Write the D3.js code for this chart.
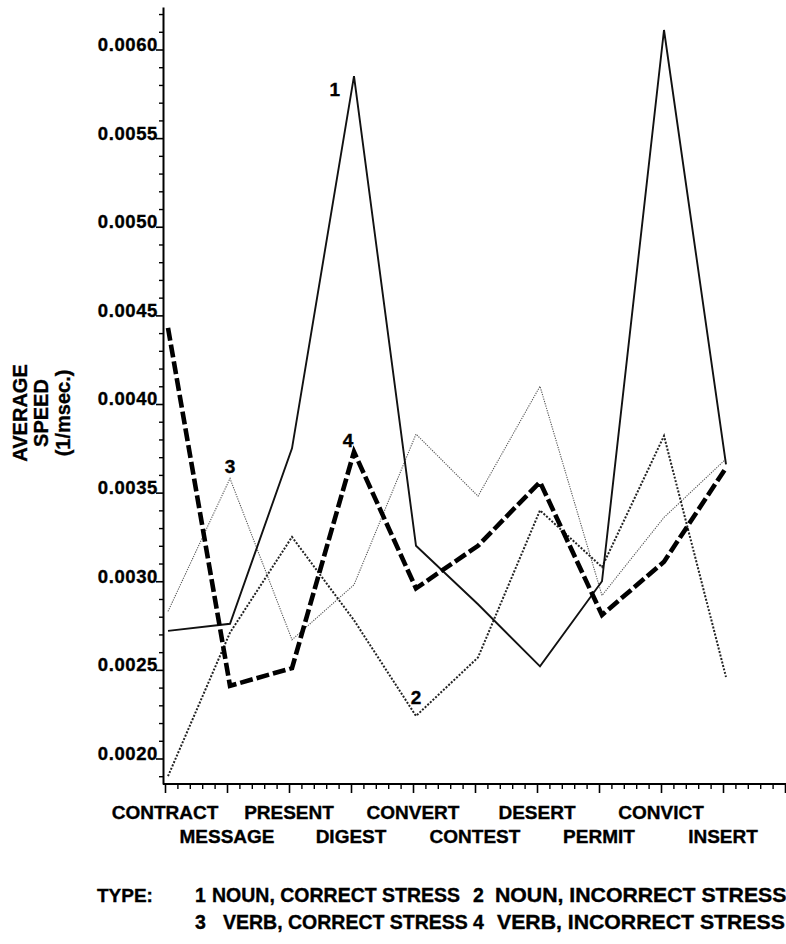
<!DOCTYPE html>
<html>
<head>
<meta charset="utf-8">
<script src="https://cdn.jsdelivr.net/npm/d3@7"></script>
<style>
  body { margin: 0; background: #fff; }
  svg { display: block; overflow: hidden; }
  text { font-family: "Liberation Sans", Arial, Helvetica, sans-serif; font-weight: bold; fill: #000;
         stroke: #000; stroke-width: 0.35px; }
</style>
</head>
<body>
<svg id="chart" width="786" height="944"></svg>
<script>
// words on the x axis, in order
const words = ["CONTRACT", "MESSAGE", "PRESENT", "DIGEST", "CONVERT",
  "CONTEST", "DESERT", "PERMIT", "CONVICT", "INSERT"];

// average speed (1/msec.) per word, one array per type
const nounCorrect   = [0.00272, 0.00276, 0.00375, 0.00585, 0.00320, 0.00287, 0.00252, 0.00300, 0.00611, 0.00366];
const nounIncorrect = [0.00190, 0.00271, 0.00325, 0.00278, 0.00224, 0.00257, 0.00340, 0.00308, 0.00382, 0.00246];
const verbCorrect   = [0.00283, 0.00358, 0.00267, 0.00298, 0.00383, 0.00348, 0.00410, 0.00292, 0.00336, 0.00369];
const verbIncorrect = [0.00443, 0.00241, 0.00251, 0.00373, 0.00296, 0.00320, 0.00356, 0.00281, 0.00311, 0.00364];

const typeNumbers = ["1", "2", "3", "4"];
const typeNames = ["NOUN, CORRECT STRESS", "NOUN, INCORRECT STRESS",
  "VERB, CORRECT STRESS", "VERB, INCORRECT STRESS"];

const yMajorTicks = [0.0020, 0.0025, 0.0030, 0.0035, 0.0040, 0.0045, 0.0050, 0.0055, 0.0060];
const yTitle = ["AVERAGE", "SPEED", "(1/msec.)"];

(function () {
  const svg = d3.select("#chart");
  svg.append("rect").attr("width", 786).attr("height", 944).attr("fill", "#fff");

  // y scale: fixed from the tick positions, then stretched to the axis ends
  const y = d3.scaleLinear().domain([0.0020, 0.0060]).range([758.5, 49.5]);
  y.domain([y.invert(784), y.invert(7)]).range([784, 7]);

  const x = d3.scaleLinear().domain([0, 10]).range([165, 785]);
  const xData = d3.scaleLinear().domain([0, 10]).range([168, 788]);

  const axisX0 = 163;

  // y axis, minor ticks first
  const yMinor = d3.range(19, 63).filter((i) => i % 5 !== 0).map((i) => i / 10000);
  svg.append("g")
    .attr("transform", `translate(${axisX0},0)`)
    .call(d3.axisLeft(y).tickValues(yMinor).tickSize(4).tickSizeOuter(0).tickFormat(""))
    .call((g) => g.selectAll("line").attr("stroke-width", 1.4))
    .call((g) => g.select(".domain").attr("stroke-width", 2));

  const yAxis = svg.append("g")
    .attr("transform", `translate(${axisX0},0)`)
    .call(d3.axisLeft(y).tickValues(yMajorTicks).tickSize(7).tickSizeOuter(0)
      .tickFormat(d3.format(".4f")));
  yAxis.select(".domain").remove();
  yAxis.selectAll("line").attr("stroke-width", 1.6);
  yAxis.selectAll("text")
    .attr("x", -5)
    .attr("dy", "0.05em")
    .style("font-size", "18.5px")
    .style("letter-spacing", "0.6px")
    .style("font-family", "'Liberation Sans', Arial, sans-serif")
    .style("font-weight", "bold")
    .style("stroke", "#000")
    .style("stroke-width", "0.35px");

  // x axis
  const xMinor = d3.range(0, 51).filter((i) => i % 5 !== 0).map((i) => i / 5);
  svg.append("g")
    .attr("transform", "translate(0,784)")
    .call(d3.axisBottom(x).tickValues(xMinor).tickSize(5).tickSizeOuter(0).tickFormat(""))
    .call((g) => g.selectAll("line").attr("stroke-width", 1.4))
    .call((g) => g.select(".domain").attr("d", `M${axisX0},0H786`).attr("stroke-width", 2));

  svg.append("g")
    .attr("transform", "translate(0,784)")
    .call(d3.axisBottom(x).tickValues(d3.range(0, 11)).tickSize(9).tickSizeOuter(0).tickFormat(""))
    .call((g) => g.select(".domain").remove())
    .call((g) => g.selectAll("line").attr("stroke-width", 1.6));

  // word labels, alternating rows
  svg.append("g")
    .selectAll("text")
    .data(words)
    .join("text")
    .attr("x", (d, i) => x(i))
    .attr("y", (d, i) => (i % 2 === 0 ? 819 : 843))
    .attr("text-anchor", "middle")
    .style("font-size", "19px")
    .text((d) => d);

  // y title
  const title = svg.append("text")
    .attr("transform", "translate(0,413) rotate(-90)")
    .attr("text-anchor", "middle")
    .style("font-size", "20px");
  title.selectAll("tspan")
    .data(yTitle)
    .join("tspan")
    .attr("x", 0)
    .attr("y", (d, i) => [27, 48, 70][i])
    .text((d) => d);

  // lines
  const series = [
    { values: nounCorrect, width: 1.9, dash: null, color: "#111", lab: 3, dx: -14, dy: 20, anchor: "end" },
    { values: nounIncorrect, width: 2, dash: "2,1.6", color: "#222", lab: 4, dx: 0, dy: -12, anchor: "middle" },
    { values: verbCorrect, width: 1.1, dash: "1.2,1.2", color: "#555", lab: 1, dx: 0, dy: -5, anchor: "middle" },
    { values: verbIncorrect, width: 4.6, dash: "13,4", color: "#000", lab: 3, dx: -6, dy: -5, anchor: "middle" },
  ];

  const line = d3.line()
    .x((d, i) => xData(i))
    .y((d) => y(d));

  const lines = svg.append("g");
  [2, 1, 0, 3].forEach((k) => {
    const s = series[k];
    lines.append("path")
      .datum(s.values)
      .attr("fill", "none")
      .attr("stroke", s.color)
      .attr("stroke-width", s.width)
      .attr("stroke-dasharray", s.dash)
      .attr("stroke-linejoin", "miter")
      .attr("d", line);
  });

  svg.append("g")
    .selectAll("text")
    .data(series)
    .join("text")
    .attr("x", (s) => xData(s.lab) + s.dx)
    .attr("y", (s) => y(s.values[s.lab]) + s.dy)
    .attr("text-anchor", (s) => s.anchor)
    .style("font-size", "19px")
    .text((s, i) => typeNumbers[i]);

  // legend
  svg.append("text")
    .attr("x", 97).attr("y", 902)
    .style("font-size", "19px")
    .text("TYPE:");

  // the right column is set wider in the original, hence the x-stretch
  const legendPos = [
    { nx: 195, tx: 212, y: 902, sx: 1 },
    { nx: 473, tx: 495, y: 902, sx: 1.09 },
    { nx: 195, tx: 223, y: 929, sx: 1 },
    { nx: 473, tx: 497, y: 929, sx: 1.09 },
  ];
  const legend = svg.append("g");
  typeNames.forEach((name, i) => {
    const p = legendPos[i];
    legend.append("text")
      .attr("x", p.nx).attr("y", p.y)
      .style("font-size", "19.5px")
      .text(typeNumbers[i]);
    legend.append("text")
      .attr("transform", `translate(${p.tx},${p.y}) scale(${p.sx},1)`)
      .style("font-size", "19.5px")
      .text(name);
  });
})();
</script>
</body>
</html>
